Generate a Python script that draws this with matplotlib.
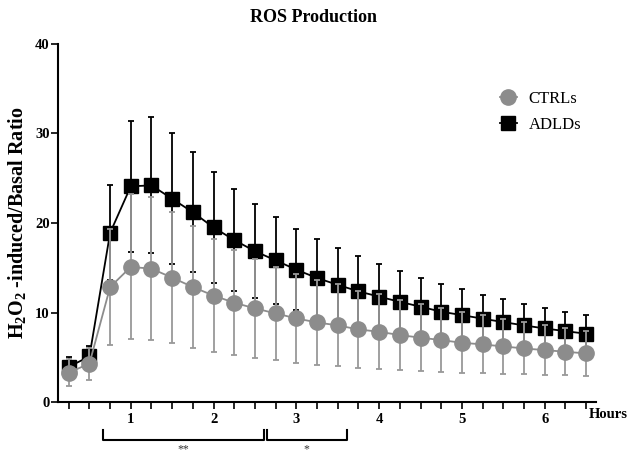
import numpy as np
import matplotlib
matplotlib.use('Agg')
import matplotlib.pyplot as plt
from matplotlib.lines import Line2D

plt.rcParams['font.family'] = 'Liberation Serif'
plt.rcParams['mathtext.fontset'] = 'custom'
plt.rcParams['mathtext.rm'] = 'Liberation Serif'
plt.rcParams['mathtext.bf'] = 'Liberation Serif:bold'

# time points (hours), every 15 min
hours = np.arange(1, 27) * 0.25

# ADLDs (mean, SD)
adld_mean = [3.95, 5.1, 18.9, 24.1, 24.2, 22.7, 21.2, 19.5, 18.1, 16.85, 15.83, 14.79, 13.86,
             13.1, 12.37, 11.78, 11.2, 10.66, 10.1, 9.72, 9.32, 8.94, 8.57, 8.23, 7.93, 7.64]
adld_sd = [1.05, 1.2, 5.3, 7.3, 7.6, 7.3, 6.7, 6.2, 5.7, 5.25, 4.87, 4.54, 4.39,
           4.1, 3.91, 3.68, 3.48, 3.2, 3.05, 2.88, 2.64, 2.53, 2.38, 2.32, 2.17, 2.12]

# CTRLs (mean, SD)
ctrl_mean = [3.3, 4.3, 12.85, 15.1, 14.9, 13.9, 12.85, 11.9, 11.1, 10.47, 9.91, 9.35, 8.9,
             8.57, 8.12, 7.86, 7.49, 7.2, 6.93, 6.63, 6.45, 6.22, 6.0, 5.81, 5.63, 5.44]
ctrl_sd = [1.5, 1.8, 6.45, 8.1, 8.0, 7.35, 6.8, 6.3, 5.85, 5.55, 5.21, 4.95, 4.76,
           4.57, 4.32, 4.16, 3.91, 3.73, 3.58, 3.39, 3.25, 3.09, 2.9, 2.79, 2.65, 2.54]

# significance brackets (start, end, label)
brackets = [(0.66, 2.61, '**'), (2.64, 3.61, '*')]

GRAY = '#8c8c8c'

fig = plt.figure(figsize=(6.3, 4.57), dpi=100)
ax = fig.add_axes([0.092, 0.12, 0.854, 0.784])

ax.errorbar(hours, adld_mean, yerr=adld_sd, color='black', marker='s', markersize=10,
            lw=1.3, elinewidth=1.3, capsize=2.5, capthick=1.3, zorder=2)
ax.errorbar(hours, ctrl_mean, yerr=ctrl_sd, color=GRAY, ecolor='#999999', marker='o',
            markersize=11, lw=1.3, elinewidth=1.3, capsize=2.5, capthick=1.3, zorder=3)

ax.set_xlim(0.12, 6.62)
ax.set_ylim(0, 40)
ax.set_yticks([0, 10, 20, 30, 40])
ax.set_xticks(hours)
ax.set_xticklabels([str(int(h)) if h == int(h) else '' for h in hours])
ax.tick_params(axis='both', direction='out', length=5, width=1.2, labelsize=10.5)
for lab in ax.get_xticklabels() + ax.get_yticklabels():
    lab.set_fontweight('bold')
ax.tick_params(axis='x', pad=3)
ax.tick_params(axis='y', pad=1)
ax.spines['top'].set_visible(False)
ax.spines['right'].set_visible(False)
ax.spines['left'].set_linewidth(1.5)
ax.spines['bottom'].set_linewidth(1.5)

fig.text(314 / 630, 1 - 18 / 457, 'ROS Production', fontsize=13, fontweight='bold',
         ha='center', va='center')
ax.set_ylabel(r'H$_{\mathbf{2}}$O$_{\mathbf{2}}$ -induced/Basal Ratio', fontsize=14.5,
              fontweight='bold', labelpad=4)
fig.text(589 / 630, 1 - 415 / 457, 'Hours', fontsize=10.5, fontweight='bold',
         ha='left', va='center')

for x0, x1, lab in brackets:
    ax.plot([x0, x0, x1, x1], [-3.1, -4.25, -4.25, -3.1], color='black', lw=1.5,
            clip_on=False)
    ax.text((x0 + x1) / 2, -4.6, lab, fontsize=8.5, color='#333333', ha='center', va='top')

handles = [Line2D([], [], color=GRAY, marker='o', markersize=11, lw=1.3),
           Line2D([], [], color='black', marker='s', markersize=10, lw=1.3)]
ax.legend(handles, ['CTRLs', 'ADLDs'], loc='upper right', bbox_to_anchor=(1.0, 0.91),
          frameon=False, fontsize=12, handlelength=1.0, handletextpad=0.7,
          labelspacing=0.6)

fig.savefig('out.png', dpi=100)
